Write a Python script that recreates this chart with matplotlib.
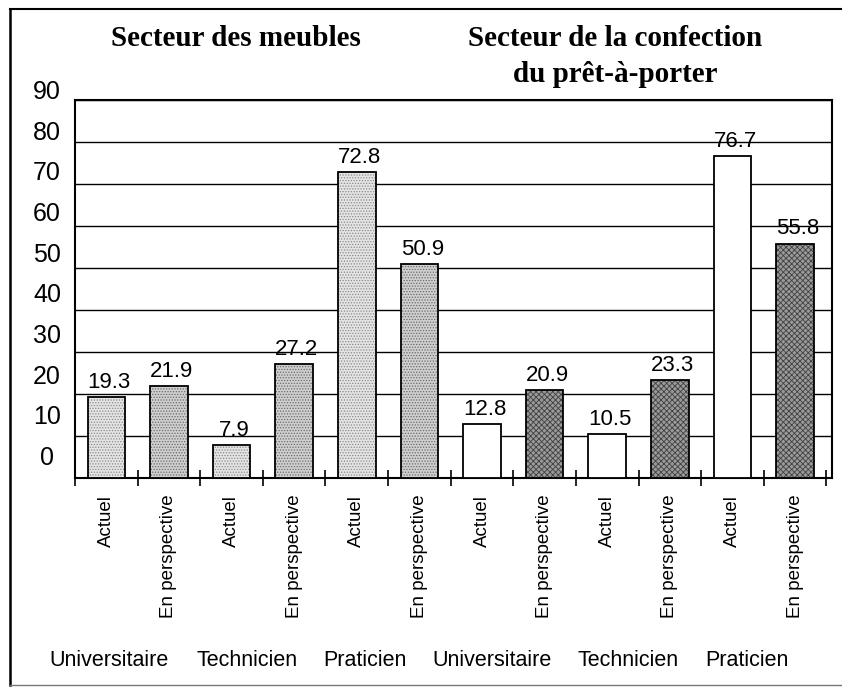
import numpy as np
import matplotlib
matplotlib.use("Agg")
import matplotlib.pyplot as plt
from matplotlib.lines import Line2D
from matplotlib.transforms import blended_transform_factory
from matplotlib import font_manager

# données
bar_labels = ["Actuel", "En perspective"] * 6
values = [19.3, 21.9, 7.9, 27.2, 72.8, 50.9,
          12.8, 20.9, 10.5, 23.3, 76.7, 55.8]
groups = ["Universitaire", "Technicien", "Praticien",
          "Universitaire", "Technicien", "Praticien"]
yticks = [0, 10, 20, 30, 40, 50, 60, 70, 80, 90]
title_left = "Secteur des meubles"
title_right = ["Secteur de la confection", "du prêt-à-porter"]

W, H = 842, 688
plt.rcParams['font.family'] = ['Liberation Sans', 'DejaVu Sans']
plt.rcParams['hatch.linewidth'] = 0.6

names = {f.name for f in font_manager.fontManager.ttflist}
if 'Liberation Sans Narrow' in names:
    group_font = dict(family='Liberation Sans Narrow', fontsize=17.5)
else:
    group_font = dict(family='Liberation Sans', fontsize=15.5)

fig = plt.figure(figsize=(W / 100, H / 100), dpi=100)
ax = fig.add_axes([75 / W, 1 - 478 / H, 757 / W, 378 / H])

x = np.arange(len(values))
faces = ['#e4e4e4', '#cfcfcf'] * 3 + ['white', '#9a9a9a'] * 3
hatches = ['......', '......'] * 3 + ['', 'xxxxxx'] * 3
hcols = ['#8a8a8a', '#6a6a6a'] * 3 + ['black', '#404040'] * 3
for xi, v, fc, hc, h in zip(x, values, faces, hcols, hatches):
    b = ax.bar(xi, v, width=0.6, facecolor=fc, edgecolor='black',
               linewidth=1.3, hatch=h, zorder=3)
    b[0]._hatch_color = matplotlib.colors.to_rgba(hc)
    ax.annotate(f"{v}", (xi, v), xytext=(2, 3), textcoords='offset points',
                ha='center', va='bottom', fontsize=16, zorder=4)

ax.set_xlim(-0.5, 11.59)
ax.set_ylim(0, 90)
ax.set_yticks(yticks)
ax.yaxis.grid(True, color='black', linewidth=1.0, zorder=0)
ax.tick_params(axis='y', length=0, labelleft=False)

ax.set_xticks(x)
ax.set_xticklabels(bar_labels, rotation=90, va='top', ha='center', fontsize=13.5)
ax.tick_params(axis='x', which='major', length=0, pad=12)
ax.set_xticks(np.arange(-0.5, 12, 1.0), minor=True)
ax.tick_params(axis='x', which='minor', direction='inout', length=12,
               width=1.2, color='black')
for s in ax.spines.values():
    s.set_linewidth(1.5)
    s.set_color('black')

# étiquettes de l'axe y, décalées vers le haut comme sur l'original
tr = blended_transform_factory(fig.transFigure, ax.transData)
for v in yticks:
    ax.text(47 / W, 4.77 + 0.968 * v, str(v), transform=tr, ha='center',
            va='center', fontsize=18, clip_on=False)

# catégories sous les barres
group_x = [109, 247, 365, 492, 628, 747]
for gx, g in zip(group_x, groups):
    fig.text(gx / W, 1 - 660 / H, g, ha='center', va='center', **group_font)

# titres
serif = dict(family='Liberation Serif', fontweight='bold', fontsize=21,
             ha='center', va='center')
fig.text(236 / W, 1 - 39 / H, title_left, **serif)
fig.text(615 / W, 1 - 38 / H, title_right[0], **serif)
fig.text(615 / W, 1 - 75 / H, title_right[1], **serif)

# cadre extérieur
fig.add_artist(Line2D([10 / W, 10 / W], [1 - 9 / H, 1 - 685 / H],
                      transform=fig.transFigure, color='black', lw=1.8))
fig.add_artist(Line2D([10 / W, 1.0], [1 - 9 / H, 1 - 9 / H],
                      transform=fig.transFigure, color='black', lw=1.5))
fig.add_artist(Line2D([10 / W, 1.0], [1 - 685 / H, 1 - 685 / H],
                      transform=fig.transFigure, color='#777777', lw=1.0))

fig.savefig("out.png", dpi=100)
